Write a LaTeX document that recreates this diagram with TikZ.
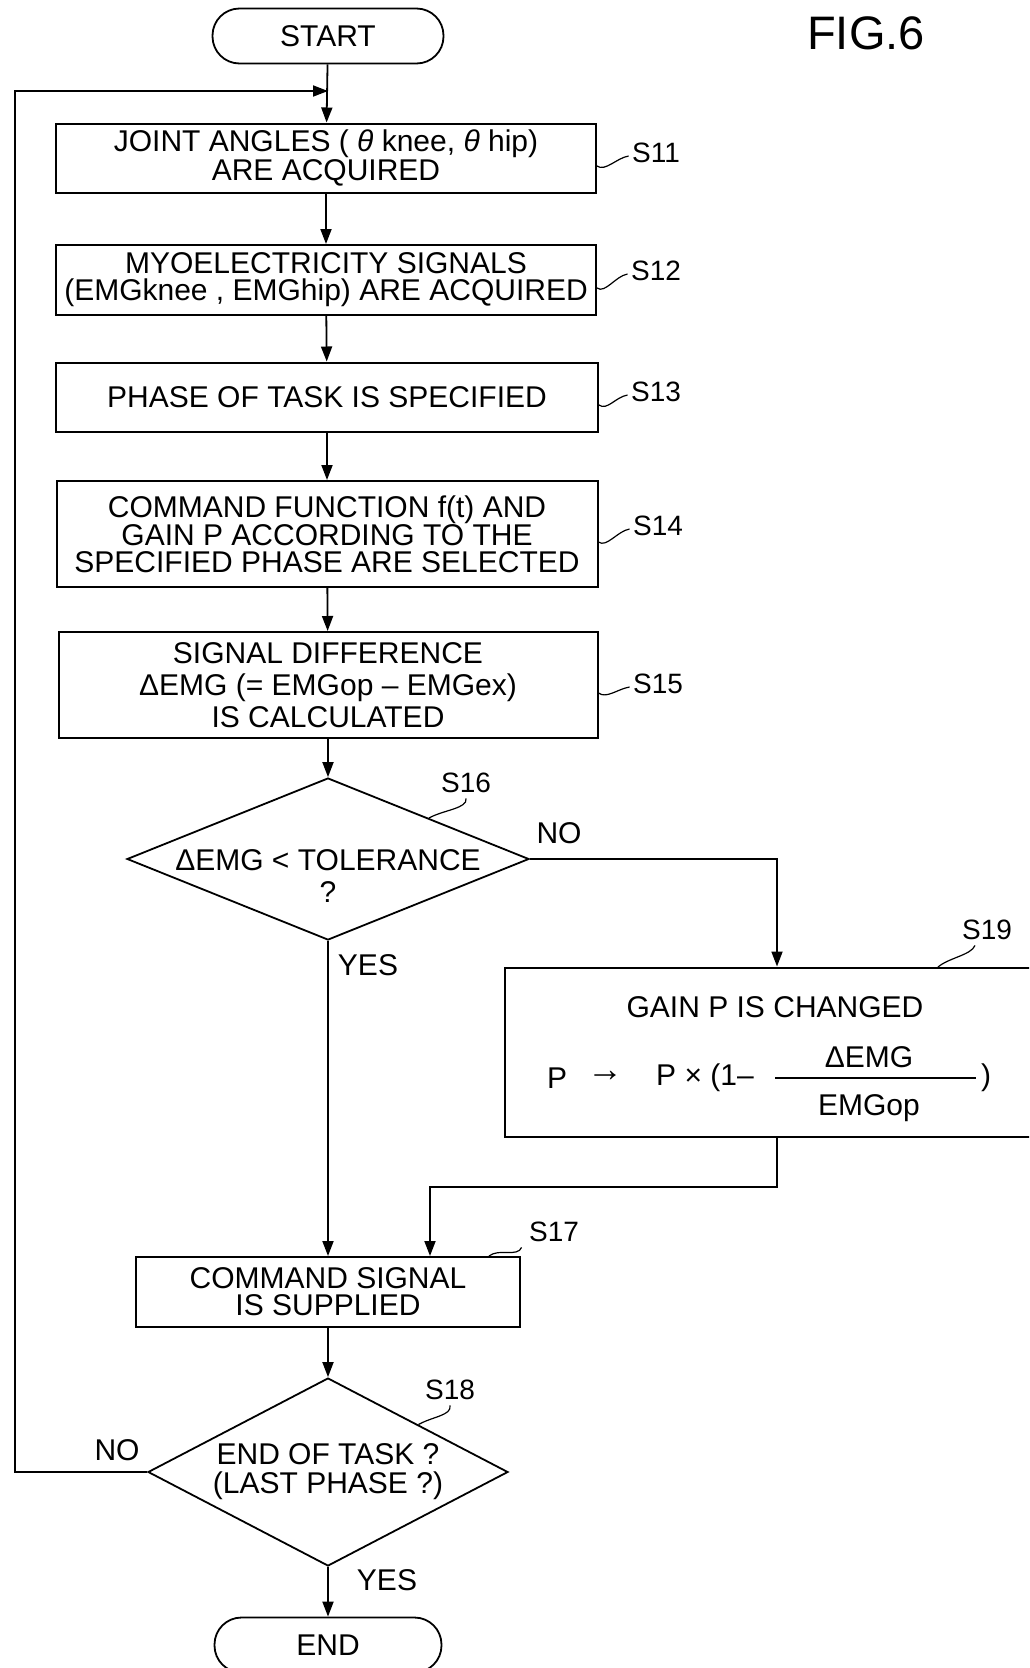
\documentclass[tikz,border=0pt]{standalone}
\usepackage{fontspec}
\setmainfont{Liberation Sans}
\usetikzlibrary{shapes.geometric,arrows.meta}
\tikzset{
  stepbox/.style={draw, line width=2pt, inner sep=0pt, align=center, font=\fontsize{30}{27}\selectfont},
  terminal/.style={draw, line width=1.8pt, rounded corners=27pt, minimum width=231pt, minimum height=55pt, font=\fontsize{30}{36}\selectfont},
  decision/.style={draw, diamond, line width=1.8pt, inner sep=0pt},
  flow/.style={line width=1.8pt, -{Triangle[length=15pt,width=11pt]}},
  leader/.style={line width=1.2pt},
  steptag/.style={font=\fontsize{28}{30}\selectfont},
  plain/.style={font=\fontsize{30}{30}\selectfont, inner sep=0pt},
}
\begin{document}
\begin{tikzpicture}[x=1pt,y=-1pt]
\useasboundingbox (0,0) rectangle (1029,1668);
\clip (0,0) rectangle (1029,1668);
% title
\node [font=\fontsize{47}{50}\selectfont] (fig) at (866,33) {FIG.6};
% main column
\node [terminal] (start) at (328,36) {START};
\node [stepbox, minimum width=540pt, minimum height=69pt] (s11) at (326,158) {JOINT ANGLES ( {\itshape θ} knee, {\itshape θ} hip)\\ARE ACQUIRED};
\node [stepbox, minimum width=540pt, minimum height=70pt] (s12) at (326,280) {MYOELECTRICITY SIGNALS\\(EMGknee , EMGhip) ARE ACQUIRED};
\node [stepbox, minimum width=542pt, minimum height=69pt] (s13) at (327,397) {PHASE OF TASK IS SPECIFIED};
\node [stepbox, minimum width=541pt, minimum height=106pt] (s14) at (327,534) {COMMAND FUNCTION f(t) AND\\GAIN P ACCORDING TO THE\\SPECIFIED PHASE ARE SELECTED};
\node [stepbox, minimum width=539pt, minimum height=106pt, font=\fontsize{30}{32}\selectfont] (s15) at (328,685) {SIGNAL DIFFERENCE\\ΔEMG (= EMGop – EMGex)\\IS CALCULATED};
\node [decision, minimum width=402pt, minimum height=162pt] (s16) at (328,859) {};
\node [plain, align=center, font=\fontsize{30}{32}\selectfont] (t16) at (328,876) {ΔEMG < TOLERANCE\\?};
\node [stepbox, minimum width=384pt, minimum height=70pt] (s17) at (328,1292) {COMMAND SIGNAL\\IS SUPPLIED};
\node [decision, minimum width=360pt, minimum height=188pt] (s18) at (328,1472) {};
\node [plain, align=center, font=\fontsize{30}{29}\selectfont] (t18) at (328,1472) {END OF TASK ?\\(LAST PHASE ?)};
\node [terminal, minimum width=227pt] (end) at (328,1645) {END};
% gain change box
\node [stepbox, minimum width=544pt, minimum height=169pt] (s19) at (777,1052) {};
\node [plain] (t19) at (775,1007) {GAIN P IS CHANGED};
\node [plain] (f19p) at (557,1078) {P};
\node [plain, font=\fontsize{36}{36}\selectfont] (f19to) at (605,1076) {→};
\node [plain] (f19mul) at (705,1078) {P × (1–};
\node [plain] (f19num) at (869,1057) {ΔEMG};
\node [plain] (f19den) at (869,1108) {EMGop};
\node [plain] (f19close) at (986,1078) {)};
\draw [line width=1.5pt] (775,1078) -- (976,1078);
% step tags
\node [steptag] (l11) at (656,153) {S11};
\node [steptag] (l12) at (656,271) {S12};
\node [steptag] (l13) at (656,392) {S13};
\node [steptag] (l14) at (658,526) {S14};
\node [steptag] (l15) at (658,684) {S15};
\node [steptag] (l16) at (466,783) {S16};
\node [steptag] (l17) at (554,1232) {S17};
\node [steptag] (l18) at (450,1390) {S18};
\node [steptag] (l19) at (987,930) {S19};
\draw [leader] ([yshift=-8pt]s11.east) .. controls +(8,6) and +(-12,2) .. ([yshift=-3pt]l11.west);
\draw [leader] ([yshift=-8pt]s12.east) .. controls +(8,6) and +(-12,2) .. ([yshift=-3pt]l12.west);
\draw [leader] ([yshift=-8pt]s13.east) .. controls +(8,6) and +(-12,2) .. ([yshift=-3pt]l13.west);
\draw [leader] ([yshift=-8pt]s14.east) .. controls +(8,6) and +(-12,2) .. ([yshift=-3pt]l14.west);
\draw [leader] ([yshift=-8pt]s15.east) .. controls +(8,6) and +(-12,2) .. ([yshift=-3pt]l15.west);
\draw [leader] (s16.north east) .. controls +(14,-8) and +(2,10) .. ([yshift=-2pt]l16.south);
\draw [leader] ([xshift=-32pt]s17.north east) .. controls +(10,-8) and +(-4,10) .. ([xshift=-4pt,yshift=-2pt]l17.south west);
\draw [leader] (s18.north east) .. controls +(14,-8) and +(2,10) .. ([yshift=-2pt]l18.south);
\draw [leader] (937,968) .. controls +(10,-10) and +(-4,10) .. ([xshift=-12pt,yshift=-2pt]l19.south);
% branch labels
\node [plain] (n16) at (559,833) {NO};
\node [plain] (y16) at (368,965) {YES};
\node [plain] (n18) at (117,1450) {NO};
\node [plain] (y18) at (387,1580) {YES};
% connectors
\coordinate (loopcorner) at (15,91);
\coordinate (loopin) at (328,91);
\coordinate (bend) at (430,1187);
\draw [flow] (start) -- (s11);
\draw [flow] (s11) -- (s12);
\draw [flow] (s12) -- (s13);
\draw [flow] (s13) -- (s14);
\draw [flow] (s14) -- (s15);
\draw [flow] (s15) -- (s16);
\draw [flow] (s16.south) -- (s16.south |- s17.north);
\draw [flow] (s16.east) -| (s19.north);
\draw [flow] (s19.south) |- (bend) -- (bend |- s17.north);
\draw [flow] (s17) -- (s18);
\draw [flow] (s18.south) -- (end.north);
\draw [flow] (s18.west) -| (loopcorner) -- (loopin);
\end{tikzpicture}
\end{document}
